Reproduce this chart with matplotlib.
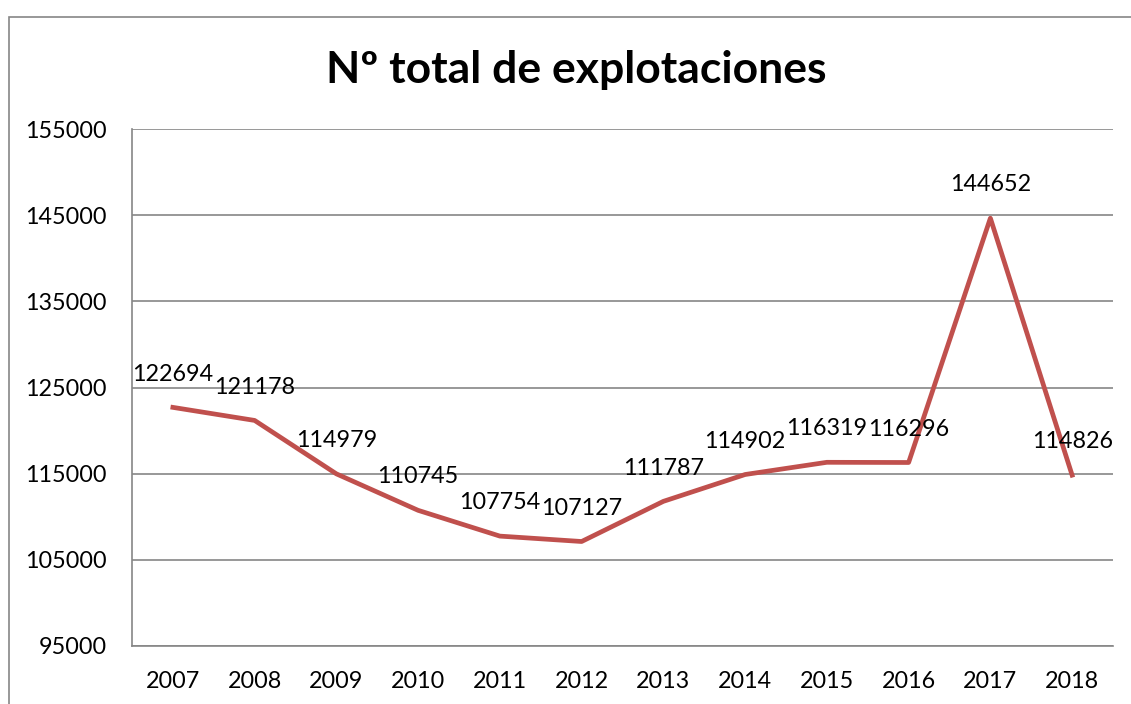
import matplotlib
matplotlib.use("Agg")
import matplotlib.pyplot as plt
from matplotlib.patches import Rectangle

years = ['2007', '2008', '2009', '2010', '2011', '2012',
         '2013', '2014', '2015', '2016', '2017', '2018']
explotaciones = [122694, 121178, 114979, 110745, 107754, 107127,
                 111787, 114902, 116319, 116296, 144652, 114826]
yticks = [95000, 105000, 115000, 125000, 135000, 145000, 155000]

plt.rcParams['font.family'] = ['Lato', 'DejaVu Sans']

W, H = 1131, 704
fig = plt.figure(figsize=(W / 100, H / 100), dpi=100)
ax = fig.add_axes([132 / W, 1 - 646 / H, (1113 - 132) / W, (646 - 129) / H])

# outer chart border (cut off at right and bottom)
fig.patches.append(Rectangle((9 / W, -0.1), 1.2, 1 - 17 / H + 0.1,
                             transform=fig.transFigure, fill=False,
                             edgecolor='#868686', linewidth=1.2))

x = list(range(len(years)))
ax.plot(x, explotaciones, color='#C0504D', linewidth=3.4, solid_joinstyle='round')

for xi, v in zip(x, explotaciones):
    ax.annotate(str(v), (xi, v), xytext=(0, 24), textcoords='offset points',
                ha='center', va='center', fontsize=16.8, color='black')

ax.set_xlim(-0.5, len(years) - 0.5)
ax.set_ylim(95000, 155000)
ax.set_yticks(yticks)
ax.set_yticklabels([str(t) for t in yticks])
ax.set_xticks(x)
ax.set_xticklabels(years)
ax.tick_params(axis='both', length=0, labelsize=16.8)
ax.tick_params(axis='y', pad=18)
ax.tick_params(axis='x', pad=18)
ax.grid(axis='y', color='#868686', linewidth=1.2)
ax.set_axisbelow(True)
for s in ['top', 'right']:
    ax.spines[s].set_visible(False)
for s in ['left', 'bottom']:
    ax.spines[s].set_color('#868686')
    ax.spines[s].set_linewidth(1.2)

fig.text(576 / W, 1 - 70 / H, 'Nº total de explotaciones', ha='center', va='center',
         fontsize=32, fontweight='bold')

plt.savefig('out.png', dpi=100)
